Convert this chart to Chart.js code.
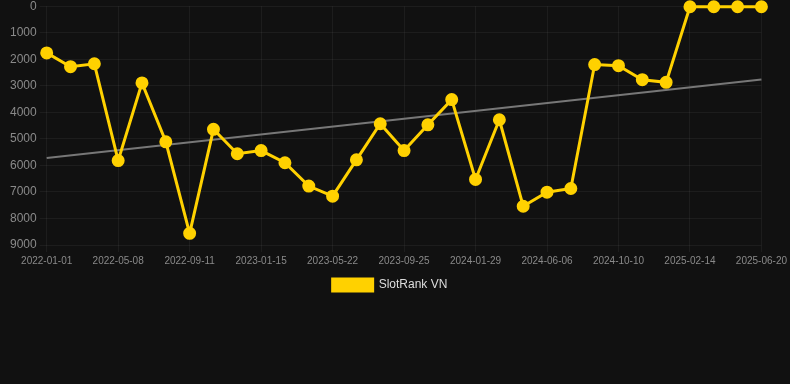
<!DOCTYPE html>
<html>
<head>
<meta charset="utf-8">
<script src="https://cdn.jsdelivr.net/npm/chart.js@4"></script>
<style>
    html, body { margin: 0; padding: 0; background: #111111; overflow: hidden; }
    #wrap { width: 790px; height: 305px; position: relative; margin-top: -4px; }
</style>
</head>
<body>
<div id="wrap"><canvas id="rankChart"></canvas></div>
<script>
// Dates of each rank snapshot
const dates = [
    '2022-01-01', '2022-02-12', '2022-03-26', '2022-05-08', '2022-06-19', '2022-07-31',
    '2022-09-11', '2022-10-23', '2022-12-04', '2023-01-15', '2023-02-26', '2023-04-09',
    '2023-05-22', '2023-07-03', '2023-08-14', '2023-09-25', '2023-11-06', '2023-12-18',
    '2024-01-29', '2024-03-12', '2024-04-24', '2024-06-06', '2024-07-18', '2024-08-29',
    '2024-10-10', '2024-11-21', '2025-01-02', '2025-02-14', '2025-03-28', '2025-05-09',
    '2025-06-20'
];

// Rank values (lower is better)
const rankValues = [
    1760, 2280, 2170, 5820, 2890, 5110,
    8560, 4640, 5560, 5440, 5900, 6780,
    7160, 5790, 4430, 5440, 4470, 3520,
    6530, 4280, 7540, 7010, 6870, 2200,
    2240, 2770, 2870, 20, 20, 20,
    20
];

// Trend line end points
const trendStart = 5720;
const trendEnd = 2760;
const trendValues = dates.map((_, i) => i === 0 ? trendStart : (i === dates.length - 1 ? trendEnd : null));

const yTicks = [0, 1000, 2000, 3000, 4000, 5000, 6000, 7000, 8000, 9000];

const gridColor = 'rgba(255, 255, 255, 0.05)';
const tickColor = '#8a8a8a';
const fontFamily = 'Arial, "Liberation Sans", sans-serif';

const ctx = document.getElementById('rankChart').getContext('2d');
new Chart(ctx, {
    type: 'line',
    data: {
        labels: dates,
        datasets: [{
            label: 'SlotRank VN',
            data: rankValues,
            borderColor: '#FFD100',
            backgroundColor: '#FFD100',
            borderWidth: 3,
            pointRadius: 5,
            pointHoverRadius: 6,
            tension: 0,
            fill: false,
            clip: false
        }, {
            label: 'trend',
            data: trendValues,
            borderColor: '#777777',
            borderWidth: 2,
            pointRadius: 0,
            spanGaps: true,
            fill: false
        }]
    },
    options: {
        responsive: true,
        maintainAspectRatio: false,
        animation: false,
        layout: { autoPadding: false, padding: { left: 7, right: 17, top: 0, bottom: 0 } },
        plugins: {
            legend: {
                position: 'bottom',
                labels: {
                    color: '#dddddd',
                    boxWidth: 40,
                    boxHeight: 12,
                    padding: 9,
                    font: { family: fontFamily, size: 12 },
                    filter: (item) => item.text !== 'trend'
                }
            },
            tooltip: { enabled: false }
        },
        scales: {
            x: {
                grid: { color: gridColor, tickLength: 7 },
                border: { display: false },
                ticks: {
                    color: tickColor,
                    maxRotation: 0,
                    autoSkip: true,
                    padding: 3,
                    font: { family: fontFamily, size: 10 }
                }
            },
            y: {
                reverse: true,
                min: 0,
                max: 9000,
                afterBuildTicks: (axis) => { axis.ticks = yTicks.map(v => ({ value: v })); },
                grid: { color: gridColor, tickLength: 7 },
                border: { display: false },
                ticks: {
                    color: tickColor,
                    padding: 3,
                    font: { family: fontFamily, size: 12 },
                    callback: (value) => String(value)
                }
            }
        }
    }
});
</script>
</body>
</html>
